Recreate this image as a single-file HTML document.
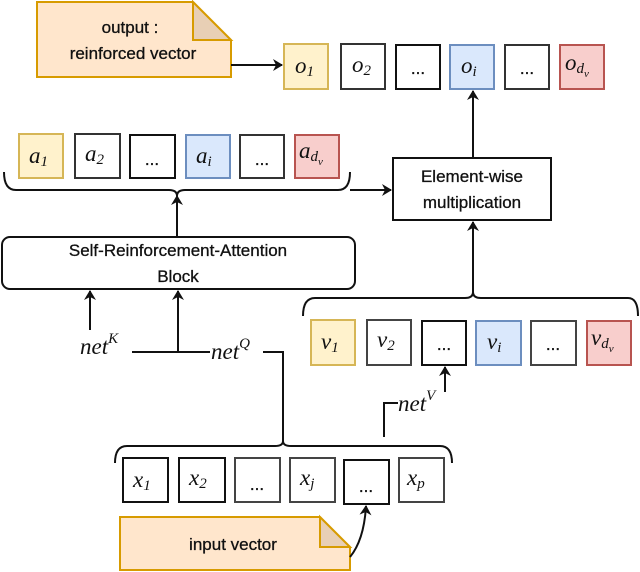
<!DOCTYPE html>
<html><head><meta charset="utf-8"><style>
html,body{margin:0;padding:0;background:#fff;}
svg{display:block}
.s{font-family:"Liberation Sans",sans-serif;font-size:17px;fill:#111;stroke:#111;stroke-width:0.3}
.m{font-family:"Liberation Serif",serif;font-style:italic;font-size:23px;fill:#111}
.sub{font-size:15px}
</style></head><body>
<svg width="640" height="572" viewBox="0 0 640 572" xmlns="http://www.w3.org/2000/svg">
<defs><marker id="ar" markerWidth="10" markerHeight="12" refX="9" refY="6" orient="auto" markerUnits="userSpaceOnUse"><path d="M0,0 L10,6 L0,12 L3,6 z" fill="#111"/></marker></defs>

<g stroke-width="2">
<path d="M37,2 H193 L231,40 V77 H37 Z" fill="#ffe6cc" stroke="#d79b00"/>
<path d="M193,2 V40 H231 Z" fill="#e8cfb5" stroke="#d79b00"/>
</g>
<text class="s" x="130" y="33" text-anchor="middle">output :</text>
<text class="s" x="133" y="59" text-anchor="middle">reinforced vector</text>
<line x1="231" y1="65" x2="282" y2="65" stroke="#111" stroke-width="2" marker-end="url(#ar)"/>

<g stroke-width="2">
<rect x="284" y="44" width="44" height="45" fill="#fff2cc" stroke="#d6b656"/>
<rect x="341" y="44" width="44" height="45" fill="#fff" stroke="#333"/>
<rect x="396" y="45" width="44" height="44" fill="#fff" stroke="#111"/>
<rect x="450" y="45" width="44" height="44" fill="#dae8fc" stroke="#6c8ebf"/>
<rect x="505" y="45" width="44" height="44" fill="#fff" stroke="#333"/>
<rect x="560" y="45" width="44" height="44" fill="#f8cecc" stroke="#b85450"/>
</g>
<text class="m" x="295" y="73">o<tspan class="sub" dy="3">1</tspan></text>
<text class="m" x="352" y="72">o<tspan class="sub" dy="3">2</tspan></text>
<text class="s" x="418" y="74" text-anchor="middle">...</text>
<text class="m" x="461" y="73">o<tspan class="sub" dy="3">i</tspan></text>
<text class="s" x="527" y="74" text-anchor="middle">...</text>
<text class="m" x="565" y="70">o<tspan class="sub" dy="3">d</tspan><tspan font-size="11" dy="4">v</tspan></text>

<g stroke-width="2">
<rect x="19" y="134" width="44" height="44" fill="#fff2cc" stroke="#d6b656"/>
<rect x="75" y="134" width="45" height="44" fill="#fff" stroke="#333"/>
<rect x="130" y="135" width="45" height="43" fill="#fff" stroke="#111"/>
<rect x="186" y="135" width="44" height="43" fill="#dae8fc" stroke="#6c8ebf"/>
<rect x="240" y="135" width="44" height="43" fill="#fff" stroke="#333"/>
<rect x="295" y="135" width="44" height="43" fill="#f8cecc" stroke="#b85450"/>
</g>
<text class="m" x="29" y="163">a<tspan class="sub" dy="3">1</tspan></text>
<text class="m" x="85" y="161">a<tspan class="sub" dy="3">2</tspan></text>
<text class="s" x="152" y="165" text-anchor="middle">...</text>
<text class="m" x="196" y="163">a<tspan class="sub" dy="3">i</tspan></text>
<text class="s" x="262" y="165" text-anchor="middle">...</text>
<text class="m" x="299" y="158">a<tspan class="sub" dy="3">d</tspan><tspan font-size="11" dy="4">v</tspan></text>

<g stroke-width="2">
<rect x="123" y="458" width="45" height="44" fill="#fff" stroke="#111"/>
<rect x="179" y="458" width="46" height="44" fill="#fff" stroke="#111"/>
<rect x="235" y="458" width="45" height="44" fill="#fff" stroke="#444"/>
<rect x="290" y="458" width="45" height="44" fill="#fff" stroke="#444"/>
<rect x="344" y="460" width="45" height="44" fill="#fff" stroke="#111"/>
<rect x="399" y="458" width="45" height="44" fill="#fff" stroke="#444"/>
</g>
<text class="m" x="133" y="487">x<tspan class="sub" dy="3">1</tspan></text>
<text class="m" x="189" y="485">x<tspan class="sub" dy="3">2</tspan></text>
<text class="s" x="257" y="490" text-anchor="middle">...</text>
<text class="m" x="300" y="485">x<tspan class="sub" dy="3">j</tspan></text>
<text class="s" x="366" y="492" text-anchor="middle">...</text>
<text class="m" x="407" y="485">x<tspan class="sub" dy="3">p</tspan></text>

<g stroke-width="2">
<rect x="311" y="320" width="44" height="45" fill="#fff2cc" stroke="#d6b656"/>
<rect x="367" y="320" width="44" height="45" fill="#fff" stroke="#444"/>
<rect x="422" y="321" width="44" height="44" fill="#fff" stroke="#111"/>
<rect x="476" y="321" width="45" height="44" fill="#dae8fc" stroke="#6c8ebf"/>
<rect x="531" y="321" width="45" height="44" fill="#fff" stroke="#444"/>
<rect x="587" y="321" width="44" height="44" fill="#f8cecc" stroke="#b85450"/>
</g>
<text class="m" x="321" y="349">v<tspan class="sub" dy="3">1</tspan></text>
<text class="m" x="377" y="347">v<tspan class="sub" dy="3">2</tspan></text>
<text class="s" x="444" y="350" text-anchor="middle">...</text>
<text class="m" x="487" y="349">v<tspan class="sub" dy="3">i</tspan></text>
<text class="s" x="553" y="350" text-anchor="middle">...</text>
<text class="m" x="591" y="345">v<tspan class="sub" dy="3">d</tspan><tspan font-size="11" dy="4">v</tspan></text>

<g fill="none" stroke="#111" stroke-width="2">
<path d="M4,172 Q4,190 16,190 H169 Q177,190 177,196 Q177,190 185,190 H338 Q350,190 350,172"/>
<line x1="177" y1="237" x2="177" y2="196" marker-end="url(#ar)"/>
<line x1="350" y1="190" x2="391" y2="190" marker-end="url(#ar)"/>
<rect x="393" y="158" width="158" height="62" fill="#fff"/>
<line x1="473" y1="158" x2="473" y2="91" marker-end="url(#ar)"/>
<rect x="2" y="237" width="353" height="52" rx="8" fill="#fff"/>
<path d="M303,316 Q303,298 315,298 H465 Q473,298 473,292 Q473,298 481,298 H628 Q638,298 638,316"/>
<line x1="473" y1="292" x2="473" y2="222" marker-end="url(#ar)"/>
<line x1="90" y1="330" x2="90" y2="291" marker-end="url(#ar)"/>
<line x1="178" y1="352" x2="178" y2="291" marker-end="url(#ar)"/>
<path d="M132,352 H210 M263,352 H283 V443"/>
<path d="M115,463 Q115,446 127,446 H275 Q283,446 283,441 Q283,446 291,446 H440 Q452,446 452,463"/>
<path d="M384,437 V403 H398"/>
<line x1="445" y1="392" x2="445" y2="367" marker-end="url(#ar)"/>
</g>
<text class="s" x="472" y="182" text-anchor="middle">Element-wise</text>
<text class="s" x="472" y="208" text-anchor="middle">multiplication</text>
<text class="s" x="178" y="256" text-anchor="middle">Self-Reinforcement-Attention</text>
<text class="s" x="178" y="282" text-anchor="middle">Block</text>
<text class="m" x="80" y="354">net<tspan class="sub" dy="-11">K</tspan></text>
<text class="m" x="211" y="359">net<tspan class="sub" dy="-11">Q</tspan></text>
<text class="m" x="398" y="411">net<tspan class="sub" dy="-11">V</tspan></text>

<g stroke-width="2">
<path d="M120,517 H320 L350,547 V570 H120 Z" fill="#ffe6cc" stroke="#d79b00"/>
<path d="M320,517 V547 H350 Z" fill="#e8cfb5" stroke="#d79b00"/>
</g>
<text class="s" x="233" y="550" text-anchor="middle">input vector</text>
<path d="M350,557 Q364,540 366,506" fill="none" stroke="#111" stroke-width="2" marker-end="url(#ar)"/>
</svg>
</body></html>
